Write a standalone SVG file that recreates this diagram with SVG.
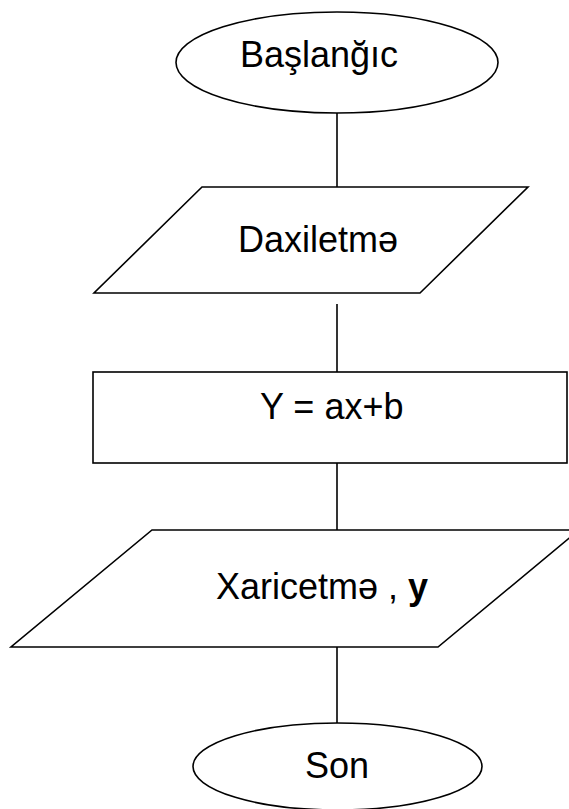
<svg xmlns="http://www.w3.org/2000/svg" width="569" height="809" viewBox="0 0 569 809">
<style>
.s{fill:#fff;stroke:#000;stroke-width:1.6}
.c{stroke:#000;stroke-width:1.6;fill:none}
text{font-family:"Liberation Sans",Arial,sans-serif;font-size:36px;fill:#000}
</style>
<rect width="569" height="809" fill="#fff"/>
<g id="connectors">
<line class="c" x1="337" y1="113" x2="337" y2="187"/>
<line class="c" x1="337" y1="304" x2="337" y2="372"/>
<line class="c" x1="337" y1="463" x2="337" y2="530"/>
<line class="c" x1="337" y1="647" x2="337" y2="723"/>
</g>
<g id="start">
<ellipse class="s" cx="337" cy="62.5" rx="161" ry="50.5"/>
<text x="240" y="67">Başlanğıc</text>
</g>
<g id="input">
<polygon class="s" points="202,187 528,187 420,293 94,293"/>
<text x="238" y="252">Daxiletmə</text>
</g>
<g id="process">
<rect class="s" x="93" y="372" width="474" height="91"/>
<text x="260" y="419">Y = ax+b</text>
</g>
<g id="output">
<polygon class="s" points="152,530 579,530 438,647 11,647"/>
<text x="216" y="599">Xaricetmə , <tspan font-weight="bold">y</tspan></text>
</g>
<g id="end">
<ellipse class="s" cx="337.5" cy="766.5" rx="144.5" ry="43.5"/>
<text x="305" y="778">Son</text>
</g>
</svg>
